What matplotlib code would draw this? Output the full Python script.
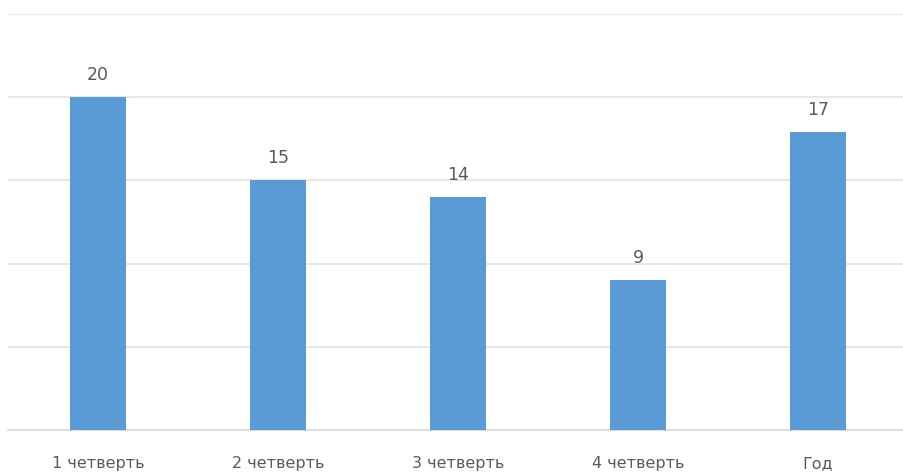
import matplotlib.pyplot as plt

categories = ["1 четверть", "2 четверть", "3 четверть", "4 четверть", "Год"]
# bar heights as drawn in the picture; the last bar reaches ~18 though its label reads 17
values = [20, 15, 14, 9, 17.9]
value_labels = ["20", "15", "14", "9", "17"]
y_ticks = [0, 5, 10, 15, 20, 25]

fig = plt.figure(figsize=(9.04, 4.75), dpi=100)
ax = fig.add_axes([8 / 904, 45 / 475, 900 / 904, 416 / 475])

x = range(len(categories))
bars = ax.bar(x, values, width=0.31, color="#5B9BD5", zorder=3)
for rect, v, lab in zip(bars, values, value_labels):
    ax.annotate(lab, (rect.get_x() + rect.get_width() / 2, v),
                xytext=(0, 9.5), textcoords="offset points",
                ha="center", va="bottom", fontsize=12.5, color="#595959")

ax.set_xlim(-0.5, len(categories) - 0.5)
ax.set_ylim(0, 25)
ax.set_yticks(y_ticks)
ax.yaxis.grid(True, color="#E3E3E3", linewidth=1.2, zorder=0)
ax.tick_params(axis="y", left=False, labelleft=False)
ax.set_xticks(list(x))
ax.set_xticklabels(categories, fontsize=11.5, color="#595959")
ax.tick_params(axis="x", length=0, pad=19)
for side in ("top", "right", "left"):
    ax.spines[side].set_visible(False)
ax.spines["bottom"].set_color("#D9D9D9")
ax.spines["bottom"].set_linewidth(1.2)

fig.savefig("out.png", dpi=100, facecolor="white")
